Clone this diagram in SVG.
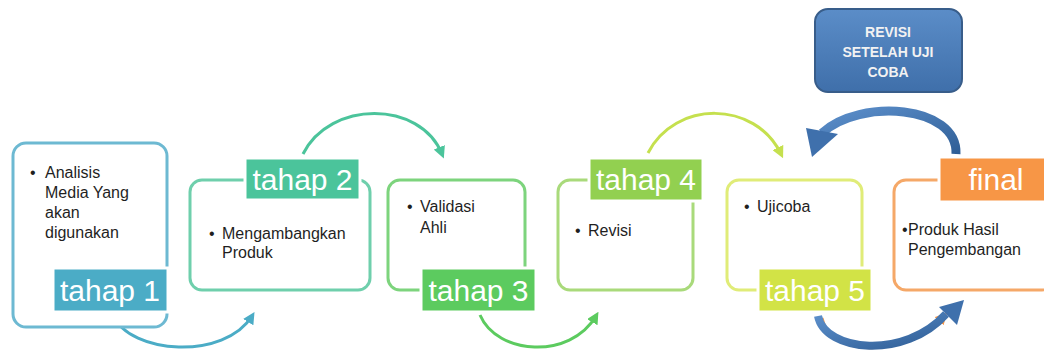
<svg xmlns="http://www.w3.org/2000/svg" width="1044" height="356" viewBox="0 0 1044 356">
<defs>
<style>
.box{fill:#fff;stroke-width:3}
.lbl{stroke:#fff;stroke-width:3}
.lt{font-family:"Liberation Sans",Arial,sans-serif;font-size:30px;fill:#fff;text-anchor:middle}
.bt{font-family:"Liberation Sans",Arial,sans-serif;font-size:16px;fill:#1f1f1f}
.rt{font-family:"Liberation Sans",Arial,sans-serif;font-size:14px;font-weight:bold;fill:#f2f2f2;text-anchor:middle}
.conn{fill:none;stroke-width:3}
</style>
<marker id="m1" viewBox="0 0 10 10" refX="6" refY="5" markerWidth="4" markerHeight="4" orient="auto"><path d="M0,0 L10,5 L0,10 z" fill="#4BACC6"/></marker>
<marker id="m2" viewBox="0 0 10 10" refX="6" refY="5" markerWidth="4" markerHeight="4" orient="auto"><path d="M0,0 L10,5 L0,10 z" fill="#4BC49B"/></marker>
<marker id="m3" viewBox="0 0 10 10" refX="6" refY="5" markerWidth="4" markerHeight="4" orient="auto"><path d="M0,0 L10,5 L0,10 z" fill="#5CCB5F"/></marker>
<marker id="m4" viewBox="0 0 10 10" refX="6" refY="5" markerWidth="4" markerHeight="4" orient="auto"><path d="M0,0 L10,5 L0,10 z" fill="#C5E04E"/></marker>
<marker id="m5" viewBox="0 0 10 10" refX="6" refY="5" markerWidth="4" markerHeight="4" orient="auto"><path d="M0,0 L10,5 L0,10 z" fill="#F79646"/></marker>
<linearGradient id="bg" x1="0" y1="0" x2="0" y2="1">
<stop offset="0" stop-color="#5B8DC8"/><stop offset="1" stop-color="#3F6FAA"/>
</linearGradient>
<linearGradient id="ag" x1="0" y1="0" x2="1" y2="1">
<stop offset="0" stop-color="#5C8FCB"/><stop offset="1" stop-color="#2F5E96"/>
</linearGradient>
</defs>

<g id="connectors">
<path class="conn" stroke="#4BACC6" marker-end="url(#m1)" d="M113 315 C130 355 225 360 252 316"/>
<path class="conn" stroke="#4BC49B" marker-end="url(#m2)" d="M303 154 C330 100 420 100 442 154"/>
<path class="conn" stroke="#5CCB5F" marker-end="url(#m3)" d="M480 315 C497 355 570 360 596 316"/>
<path class="conn" stroke="#C5E04E" marker-end="url(#m4)" d="M648 153 C675 100 755 100 781 154"/>
<path class="conn" stroke="#F79646" marker-end="url(#m5)" d="M822 318 C830 358 905 358 944 316"/>
<g id="arrow-revisi">
<path fill="none" stroke="url(#ag)" stroke-width="9" d="M956 154 C958 105 860 98 822 133"/>
<polygon fill="#3F70AC" points="812,157 806,128 838,134"/>
</g>
<g id="arrow-final">
<path fill="none" stroke="url(#ag)" stroke-width="8" d="M818 316 C825 352 905 360 946 314"/>
<polygon fill="#3F70AC" points="964,300 939,307 957,325"/>
</g>
</g>

<g id="tahap1">
<rect class="box" x="13" y="143" width="154" height="184" rx="13" stroke="#6DB9D2"/>
<text class="bt"><tspan x="30" y="178">•</tspan><tspan x="45" y="178">Analisis</tspan><tspan x="45" y="198">Media Yang</tspan><tspan x="45" y="218">akan</tspan><tspan x="45" y="238">digunakan</tspan></text>
<rect class="lbl" x="53" y="268" width="115" height="44" fill="#4BACC6"/>
<text class="lt" x="110" y="301">tahap 1</text>
</g>

<g id="tahap2">
<rect class="box" x="190" y="180" width="180" height="110" rx="12" stroke="#6FCFAC"/>
<text class="bt"><tspan x="209" y="239">•</tspan><tspan x="222" y="239">Mengambangkan</tspan><tspan x="222" y="258">Produk</tspan></text>
<rect class="lbl" x="245" y="158" width="115" height="42" fill="#4BC49B"/>
<text class="lt" x="302.5" y="190">tahap 2</text>
</g>

<g id="tahap3">
<rect class="box" x="388" y="180" width="137" height="110" rx="12" stroke="#7DD47D"/>
<text class="bt"><tspan x="407" y="212">•</tspan><tspan x="420" y="212">Validasi</tspan><tspan x="420" y="233">Ahli</tspan></text>
<rect class="lbl" x="421" y="268" width="115" height="44" fill="#5CCB5F"/>
<text class="lt" x="478.5" y="301">tahap 3</text>
</g>

<g id="tahap4">
<rect class="box" x="558" y="180" width="135" height="110" rx="12" stroke="#A9DA7B"/>
<text class="bt"><tspan x="575" y="236">•</tspan><tspan x="588" y="236">Revisi</tspan></text>
<rect class="lbl" x="589" y="158" width="114" height="43" fill="#92D050"/>
<text class="lt" x="646" y="190">tahap 4</text>
</g>

<g id="tahap5">
<rect class="box" x="727" y="180" width="135" height="110" rx="12" stroke="#E0EC78"/>
<text class="bt"><tspan x="744" y="212">•</tspan><tspan x="757" y="212">Ujicoba</tspan></text>
<rect class="lbl" x="758" y="268" width="114" height="44" fill="#D2E346"/>
<text class="lt" x="815" y="301">tahap 5</text>
</g>

<g id="final">
<rect class="box" x="894" y="180" width="160" height="110" rx="12" stroke="#F5A868"/>
<text class="bt"><tspan x="902" y="235">•</tspan><tspan x="908" y="235">Produk Hasil</tspan><tspan x="908" y="255">Pengembangan</tspan></text>
<rect class="lbl" x="939" y="157" width="115" height="45" fill="#F79646"/>
<text class="lt" x="996" y="190">final</text>
</g>

<g id="revisi">
<rect x="815" y="9" width="147" height="83" rx="13" fill="url(#bg)" stroke="#385D8A" stroke-width="2"/>
<text class="rt"><tspan x="888" y="37">REVISI</tspan><tspan x="888" y="57">SETELAH UJI</tspan><tspan x="888" y="77">COBA</tspan></text>
</g>
</svg>
